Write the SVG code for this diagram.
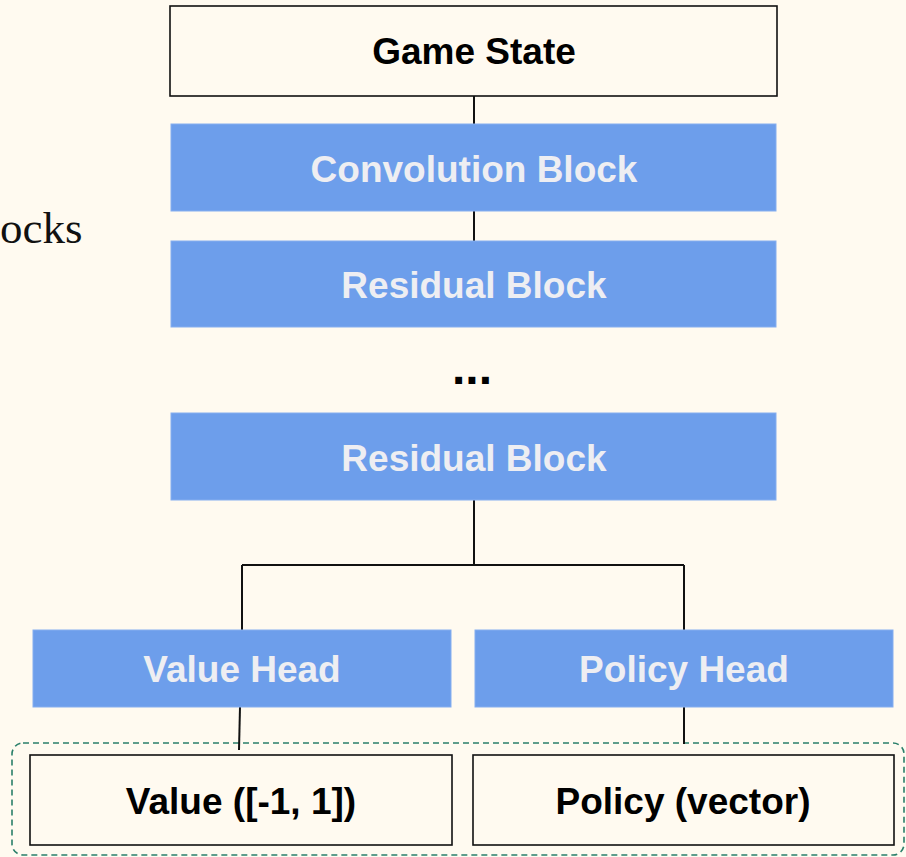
<svg xmlns="http://www.w3.org/2000/svg" width="906" height="857" viewBox="0 0 906 857">
  <style>
    .outline { fill: #FFFAF0; stroke: #111111; stroke-width: 1.6; }
    .block { fill: #6D9EEB; stroke: #86AEEF; stroke-width: 1; }
    .dark { font-family: "Liberation Sans", Arial, sans-serif; font-weight: bold; font-size: 37px; fill: #000000; text-anchor: middle; }
    .light { font-family: "Liberation Sans", Arial, sans-serif; font-weight: bold; font-size: 37px; fill: #EEEEF2; text-anchor: middle; }
    .wire { fill: none; stroke: #111111; stroke-width: 2; }
  </style>
  <rect width="906" height="857" fill="#FFFAF0"/>

  <!-- side label -->
  <text x="0" y="243" font-family="Liberation Serif, Times New Roman, serif" font-size="45" fill="#111111">ocks</text>

  <!-- output grouping -->
  <rect id="outputs" x="12" y="743" width="892" height="112" rx="11" fill="none" stroke="#2A7F6A" stroke-width="1.6" stroke-dasharray="6 4"/>

  <g id="connectors">
    <line class="wire" x1="474" y1="96" x2="474" y2="124"/>
    <line class="wire" x1="474" y1="211" x2="474" y2="241"/>
    <path class="wire" d="M474 500 V565 M242 565 H684 M242 565 V630 M684 565 V630"/>
    <line class="wire" x1="240" y1="707" x2="239" y2="750"/>
    <line class="wire" x1="684" y1="707" x2="684" y2="744"/>
  </g>

  <g id="game-state">
    <rect class="outline" x="170" y="6" width="607" height="90"/>
    <text class="dark" x="474" y="64">Game State</text>
  </g>
  <g id="convolution-block">
    <rect class="block" x="171" y="124" width="605" height="87"/>
    <text class="light" x="474" y="182">Convolution Block</text>
  </g>
  <g id="residual-block-1">
    <rect class="block" x="171" y="241" width="605" height="86"/>
    <text class="light" x="474" y="298">Residual Block</text>
  </g>
  <g id="ellipsis">
    <text x="472" y="384" font-family="Liberation Sans, Arial, sans-serif" font-weight="bold" font-size="48" fill="#000000" text-anchor="middle">...</text>
  </g>
  <g id="residual-block-n">
    <rect class="block" x="171" y="413" width="605" height="87"/>
    <text class="light" x="474" y="471">Residual Block</text>
  </g>
  <g id="value-head">
    <rect class="block" x="33" y="630" width="418" height="77"/>
    <text class="light" x="242" y="682">Value Head</text>
  </g>
  <g id="policy-head">
    <rect class="block" x="475" y="630" width="418" height="77"/>
    <text class="light" x="684" y="682">Policy Head</text>
  </g>
  <g id="value-output">
    <rect class="outline" x="30" y="755" width="422" height="90"/>
    <text class="dark" x="241" y="814">Value ([-1, 1])</text>
  </g>
  <g id="policy-output">
    <rect class="outline" x="473" y="755" width="421" height="90"/>
    <text class="dark" x="683" y="814">Policy (vector)</text>
  </g>
</svg>
